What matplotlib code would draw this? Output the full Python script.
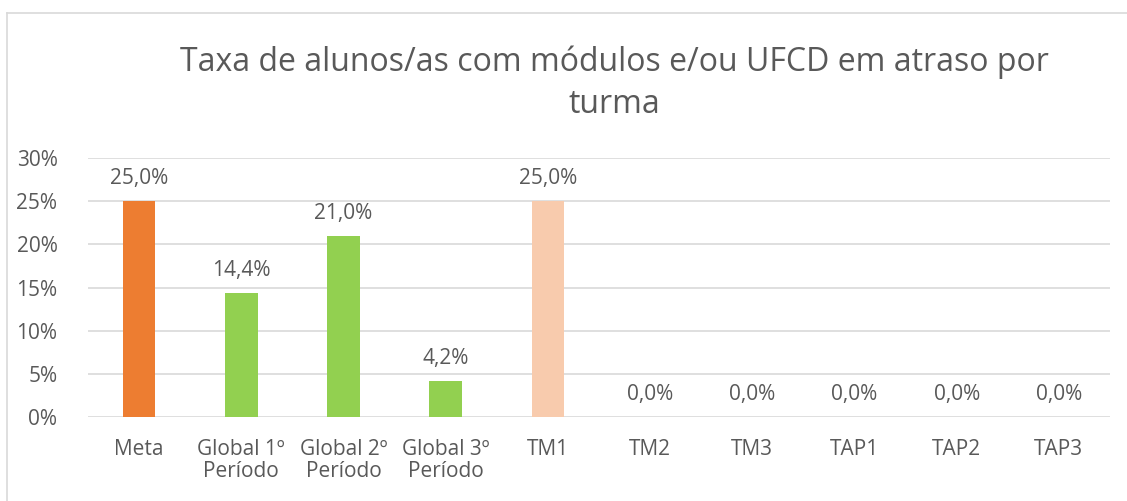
import numpy as np
import matplotlib.pyplot as plt
from matplotlib.lines import Line2D

categorias = ["Meta", "Global 1º\nPeríodo", "Global 2º\nPeríodo", "Global 3º\nPeríodo",
              "TM1", "TM2", "TM3", "TAP1", "TAP2", "TAP3"]
valores = [25.0, 14.4, 21.0, 4.2, 25.0, 0.0, 0.0, 0.0, 0.0, 0.0]
cores = ["#ED7D31", "#92D050", "#92D050", "#92D050", "#F8CBAD",
         "#F8CBAD", "#F8CBAD", "#F8CBAD", "#F8CBAD", "#F8CBAD"]
yticks = [0, 5, 10, 15, 20, 25, 30]

plt.rcParams['font.family'] = ['Open Sans', 'DejaVu Sans']
texto = "#595959"

fig = plt.figure(figsize=(11.27, 5.01), dpi=100)
ax = fig.add_axes([88 / 1127, 1 - 417 / 501, (1110 - 88) / 1127, (417 - 158) / 501])

x = np.arange(len(categorias))
ax.bar(x, valores, width=0.32, color=cores, zorder=3)

for xi, v in zip(x, valores):
    ax.text(xi, v + 1.4, f"{v:.1f}%".replace(".", ","), ha="center", va="bottom",
            fontsize=15, color=texto)

ax.set_ylim(0, 30)
ax.set_xlim(-0.5, len(categorias) - 0.5)
ax.set_yticks(yticks)
ax.set_yticklabels([f"{t}%" for t in yticks], fontsize=15, color=texto)
ax.set_xticks(x)
ax.set_xticklabels(categorias, fontsize=15, color=texto, linespacing=1.05, va="top")
ax.tick_params(length=0)
ax.tick_params(axis="x", pad=16)
ax.tick_params(axis="y", pad=22)
ax.grid(axis="y", color="#D9D9D9", linewidth=1.2, zorder=0)
for s in ax.spines.values():
    s.set_visible(False)

fig.text(614 / 1127, 1 - 83 / 501, "Taxa de alunos/as com módulos e/ou UFCD em atraso por\nturma",
         ha="center", va="center", fontsize=23, color=texto, linespacing=1.35)

# moldura do gráfico
fig.add_artist(Line2D([7 / 1127, 7 / 1127], [0, 1 - 13 / 501], color="#D9D9D9", lw=1.2))
fig.add_artist(Line2D([7 / 1127, 1], [1 - 13 / 501, 1 - 13 / 501], color="#D9D9D9", lw=1.2))

fig.savefig("out.png", dpi=100)
